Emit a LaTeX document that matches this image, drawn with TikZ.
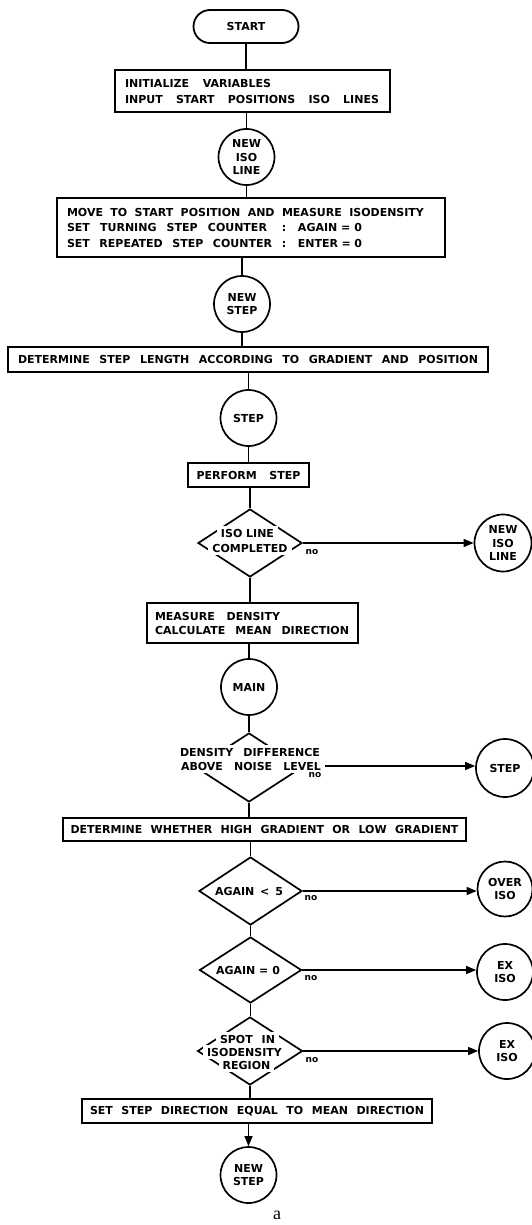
\documentclass[tikz,border=0pt]{standalone}
\usepackage{fontspec}
\newfontfamily\lettering{DejaVu Sans}
\newfontfamily\capfont{Liberation Serif}
\usetikzlibrary{arrows.meta,shapes.geometric,shapes.misc}
\newcommand\W[2]{{\spaceskip=0pt\xspaceskip=0pt\makebox[#1pt][s]{#2}}}
\begin{document}
\begin{tikzpicture}[x=1pt,y=-1pt,
  txt/.style={font=\lettering\bfseries\fontsize{11}{15}\selectfont},
  box/.style={txt,draw,rectangle,line width=2.2pt,inner sep=0pt},
  term/.style={txt,draw,rounded rectangle,line width=1.8pt,minimum width=105pt,minimum height=33pt,inner sep=0pt},
  conn/.style={circle,draw,line width=1.7pt,minimum size=56pt,inner sep=0pt,align=center,font=\lettering\bfseries\fontsize{11}{13.5}\selectfont},
  dec/.style={diamond,draw,line width=1.7pt,inner sep=0pt},
  dtxt/.style={txt,fill=white,inner xsep=4pt,inner ysep=2.5pt},
  flow/.style={line width=1.3pt},
  arr/.style={flow,-{Triangle[length=10pt,width=8pt]}},
  nolab/.style={font=\lettering\bfseries\fontsize{9}{9}\selectfont,inner sep=0pt}]
\useasboundingbox (0,0) rectangle (532,1225);

% main column
\node[term] (start) at (246,26.5) {START};
\node[box,minimum width=275pt,minimum height=42pt,text width=255pt,inner xsep=10pt,align=left,font=\lettering\bfseries\fontsize{11}{16}\selectfont] (init) at (252.5,91)
  {\W{146}{INITIALIZE VARIABLES}\\\W{254}{INPUT START POSITIONS ISO LINES}};
\node[conn] (newiso) at (246.5,157) {NEW\\ISO\\LINE};
\node[box,minimum width=388pt,minimum height=59pt,text width=368pt,inner xsep=10pt,align=left,font=\lettering\bfseries\fontsize{11}{15.5}\selectfont] (move) at (251,227.5)
  {\W{357}{MOVE TO START POSITION AND MEASURE ISODENSITY}\\
   \makebox[215pt][l]{\W{200}{SET TURNING STEP COUNTER}}\makebox[16pt][l]{:}\W{64}{AGAIN = 0}\\
   \makebox[215pt][l]{\W{205}{SET REPEATED STEP COUNTER}}\makebox[16pt][l]{:}\W{64}{ENTER = 0}};
\node[conn] (newstep) at (242,304) {NEW\\STEP};
\node[box,minimum width=480pt,minimum height=25pt] (det) at (248,359.5)
  {\W{460}{DETERMINE STEP LENGTH ACCORDING TO GRADIENT AND POSITION}};
\node[conn] (step) at (248.5,418) {STEP};
\node[box,minimum width=121pt,minimum height=24pt] (perf) at (248.5,475) {\W{104}{PERFORM STEP}};

\node[dec,minimum width=104pt,minimum height=68pt] (d1) at (250,543) {};
\node[dtxt] (d1a) at (247.5,533) {ISO LINE};
\node[dtxt] (d1b) at (250,548) {COMPLETED};

\node[box,minimum width=211pt,minimum height=40pt,text width=195pt,inner xsep=8pt,align=left,font=\lettering\bfseries\fontsize{11}{14}\selectfont] (meas) at (252.5,623)
  {\W{125}{MEASURE DENSITY}\\\W{194}{CALCULATE MEAN DIRECTION}};
\node[conn] (main) at (249,687) {MAIN};

\node[dec,minimum width=106pt,minimum height=69pt] (d2) at (249,767.5) {};
\node[dtxt] (d2a) at (250,752) {\W{140}{DENSITY DIFFERENCE}};
\node[dtxt] (d2b) at (251,766) {\W{140}{ABOVE NOISE LEVEL}};

\node[box,minimum width=403pt,minimum height=23.5pt] (detw) at (264.5,829.5)
  {\W{388}{DETERMINE WHETHER HIGH GRADIENT OR LOW GRADIENT}};

\node[dec,minimum width=103pt,minimum height=68pt] (d3) at (250.5,891) {};
\node[dtxt] (d3a) at (249,891) {\W{68}{AGAIN < 5}};

\node[dec,minimum width=102pt,minimum height=66pt] (d4) at (250.5,970) {};
\node[dtxt] (d4a) at (248,970) {\W{64}{AGAIN = 0}};

\node[dec,minimum width=105pt,minimum height=68pt] (d5) at (250,1051) {};
\node[dtxt] (d5a) at (247.5,1039) {\W{55}{SPOT IN}};
\node[dtxt] (d5b) at (244.5,1052) {ISODENSITY};
\node[dtxt] (d5c) at (246.5,1065) {REGION};

\node[box,minimum width=350pt,minimum height=24pt] (set) at (257,1111)
  {\W{334}{SET STEP DIRECTION EQUAL TO MEAN DIRECTION}};
\node[conn] (newstep2) at (248.5,1175) {NEW\\STEP};

% right column
\node[conn,minimum size=57pt] (newiso2) at (503,543) {NEW\\ISO\\LINE};
\node[conn,minimum size=58pt] (step2) at (505,768) {STEP};
\node[conn,minimum size=55pt] (overiso) at (505,889) {OVER\\ISO};
\node[conn] (exiso1) at (505,972) {EX\\ISO};
\node[conn] (exiso2) at (507,1051) {EX\\ISO};

% no labels
\node[nolab] (no1) at (312,552) {no};
\node[nolab] (no2) at (315,775) {no};
\node[nolab] (no3) at (311,898) {no};
\node[nolab] (no4) at (311,978) {no};
\node[nolab] (no5) at (312,1060) {no};

% connectors
\draw[flow] (start.south) -- (start.south |- init.north);
\draw[flow] (newiso.north |- init.south) -- (newiso.north);
\draw[flow] (newiso.south) -- (newiso.south |- move.north);
\draw[flow] (newstep.north |- move.south) -- (newstep.north);
\draw[flow] (newstep.south) -- (newstep.south |- det.north);
\draw[flow] (step.north |- det.south) -- (step.north);
\draw[flow] (step.south) -- (step.south |- perf.north);
\draw[flow] (d1.north |- perf.south) -- (d1.north);
\draw[flow] (d1.south) -- (d1.south |- meas.north);
\draw[flow] (main.north |- meas.south) -- (main.north);
\draw[flow] (main.south) -- (main.south |- d2.north);
\draw[flow] (d2.south) -- (d2.south |- detw.north);
\draw[flow] (d3.north |- detw.south) -- (d3.north);
\draw[flow] (d3.south) -- (d3.south |- d4.north);
\draw[flow] (d4.south) -- (d4.south |- d5.north);
\draw[flow] (d5.south) -- (d5.south |- set.north);
\draw[arr] (newstep2.north |- set.south) -- (newstep2.north);

\draw[arr] (d1.east) -- (d1.east -| newiso2.west);
\draw[arr] (d2b.east) -- (d2b.east -| step2.west);
\draw[arr] (d3.east) -- (d3.east -| overiso.west);
\draw[arr] (d4.east) -- (d4.east -| exiso1.west);
\draw[arr] (d5.east) -- (d5.east -| exiso2.west);

\node[font=\capfont\fontsize{18}{18}\selectfont,inner sep=0pt] (cap) at (277,1215) {a};
\end{tikzpicture}
\end{document}
